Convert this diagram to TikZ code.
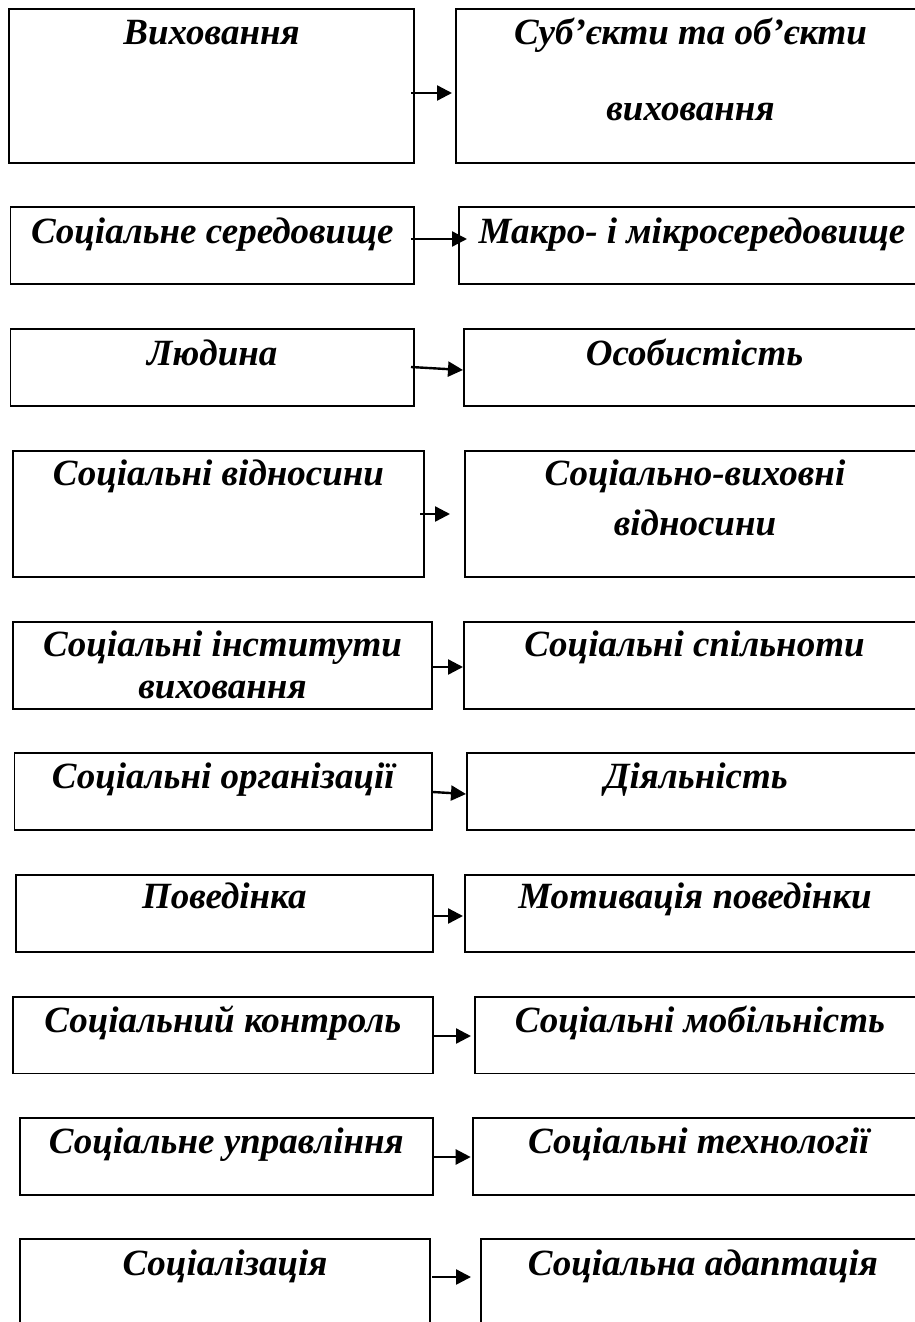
\documentclass[tikz,border=0pt]{standalone}
\usepackage{fontspec}
\setmainfont{Liberation Serif}
\usetikzlibrary{arrows.meta}
\tikzset{
  x=1pt, y=-1pt,
  box/.style={draw=black, line width=1.7pt, rectangle, inner sep=0pt, outer sep=0pt},
  topbox/.style={box, line width=2.2pt},
  lbl/.style={anchor=base, inner sep=0pt, font=\fontsize{37}{37}\selectfont\bfseries\itshape},
  arr/.style={line width=2.4pt, -{Triangle[length=15pt,width=15pt]}},
}
\newcommand\mkbox[6][box]{\node[#1, anchor=north west, minimum width={#5-#3}, minimum height={#6-#4}] (#2) at (#3,#4) {};}
\begin{document}
\begin{tikzpicture}
\useasboundingbox (0,0) rectangle (915,1322);
\clip (0,0) rectangle (915,1322);
% row 1
\mkbox[topbox]{L1}{9}{9}{414}{163}
\mkbox[topbox]{R1}{456}{9}{925}{163}
\node[lbl] at ([yshift=-36pt]L1.north) {Виховання};
\node[lbl] at ([yshift=-36pt]R1.north) {Суб’єкти та об’єкти};
\node[lbl] at ([yshift=-111pt]R1.north) {виховання};
\draw[arr] ([xshift=-3pt,yshift=-84pt]L1.north east) -- ([xshift=-4pt,yshift=-84pt]R1.north west);
% row 2
\mkbox{L2}{10.5}{207}{414}{284}
\mkbox{R2}{459}{207}{925}{284}
\node[lbl] at ([yshift=-36pt]L2.north) {Соціальне середовище};
\node[lbl] at ([yshift=-36pt]R2.north) {Макро- і мікросередовище};
\draw[arr] ([xshift=-3pt,yshift=-32pt]L2.north east) -- ([xshift=8pt,yshift=-32pt]R2.north west);
% row 3
\mkbox{L3}{10.5}{329}{414}{406}
\mkbox{R3}{464}{329}{925}{406}
\node[lbl] at ([yshift=-36pt]L3.north) {Людина};
\node[lbl] at ([yshift=-36pt]R3.north) {Особистість};
\draw[arr] ([xshift=-3pt,yshift=-38pt]L3.north east) -- ([xshift=-1pt,yshift=-41pt]R3.north west);
% row 4
\mkbox{L4}{13}{451}{424}{577}
\mkbox{R4}{465}{451}{925}{577}
\node[lbl] at ([yshift=-34pt]L4.north) {Соціальні відносини};
\node[lbl] at ([yshift=-34pt]R4.north) {Соціально-виховні};
\node[lbl] at ([yshift=-84pt]R4.north) {відносини};
\draw[arr] ([xshift=-4pt,yshift=-63pt]L4.north east) -- ([xshift=-15pt,yshift=-63pt]R4.north west);
% row 5
\mkbox{L5}{13}{622}{432}{709}
\mkbox{R5}{464}{622}{925}{709}
\node[lbl] at ([yshift=-34pt]L5.north) {Соціальні інститути};
\node[lbl] at ([yshift=-76pt]L5.north) {виховання};
\node[lbl] at ([yshift=-34pt]R5.north) {Соціальні спільноти};
\draw[arr] ([yshift=-45pt]L5.north east) -- ([xshift=-1pt,yshift=-45pt]R5.north west);
% row 6
\mkbox{L6}{14.6}{753}{432}{830}
\mkbox{R6}{467}{753}{925}{830}
\node[lbl] at ([yshift=-35pt]L6.north) {Соціальні організації};
\node[lbl] at ([yshift=-35pt]R6.north) {Діяльність};
\draw[arr] ([xshift=1pt,yshift=-39pt]L6.north east) -- ([xshift=-1pt,yshift=-41pt]R6.north west);
% row 7
\mkbox{L7}{16}{875}{432.7}{952}
\mkbox{R7}{465}{875}{925}{952}
\node[lbl] at ([yshift=-33pt]L7.north) {Поведінка};
\node[lbl] at ([yshift=-33pt]R7.north) {Мотивація поведінки};
\draw[arr] ([yshift=-41pt]L7.north east) -- ([xshift=-2pt,yshift=-41pt]R7.north west);
% row 8
\mkbox{L8}{13}{997}{432.7}{1073.5}
\mkbox{R8}{475}{997}{925}{1073.5}
\node[lbl] at ([yshift=-35pt]L8.north) {Соціальний контроль};
\node[lbl] at ([yshift=-35pt]R8.north) {Соціальні мобільність};
\draw[arr] ([yshift=-39pt]L8.north east) -- ([xshift=-4pt,yshift=-39pt]R8.north west);
% row 9
\mkbox{L9}{20}{1118}{432.7}{1195}
\mkbox{R9}{472.7}{1118}{925}{1195}
\node[lbl] at ([yshift=-35pt]L9.north) {Соціальне управління};
\node[lbl] at ([yshift=-35pt]R9.north) {Соціальні технології};
\draw[arr] ([yshift=-39pt]L9.north east) -- ([xshift=-2pt,yshift=-39pt]R9.north west);
% row 10
\mkbox{L10}{20}{1239}{430}{1345}
\mkbox{R10}{481}{1239}{925}{1345}
\node[lbl] at ([yshift=-36pt]L10.north) {Соціалізація};
\node[lbl] at ([yshift=-36pt]R10.north) {Соціальна адаптація};
\draw[arr] ([xshift=2pt,yshift=-38pt]L10.north east) -- ([xshift=-10pt,yshift=-38pt]R10.north west);
\end{tikzpicture}
\end{document}
